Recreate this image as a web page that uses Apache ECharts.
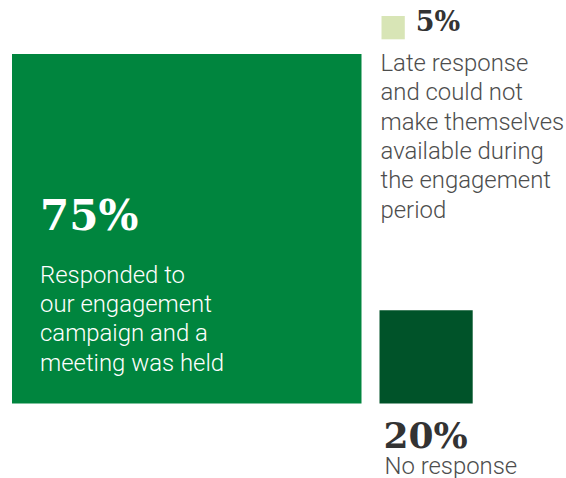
<!DOCTYPE html>
<html>
<head>
<meta charset="utf-8">
<script src="https://cdn.jsdelivr.net/npm/echarts@6/dist/echarts.min.js"></script>
<style>
  html, body { margin: 0; padding: 0; background: #ffffff; }
  #chart { width: 566px; height: 478px; }
</style>
</head>
<body>
<div id="chart"></div>
<script>
// ---- data ----
const categories = ['Responded', 'Late response', 'No response'];
const values = [75, 5, 20];
const valueLabels = ['75%', '5%', '20%'];
const descriptions = [
  'Responded to\nour engagement\ncampaign and a\nmeeting was held',
  'Late response\nand could not\nmake themselves\navailable during\nthe engagement\nperiod',
  'No response'
];

// ---- styles ----
const fills = ['#00853e', '#d8e5b6', '#005329'];
const serif = '"DejaVu Serif", "Liberation Serif", serif';
const GAP = 18;
const BODY = 23.9;

const chart = echarts.init(document.getElementById('chart'), null, { renderer: 'svg' });

function renderItem(params, api) {
  const i = api.value(0);
  const o = api.coord([0, 0]);
  const side = v => api.size([v, v])[0];
  const big = side(values[0]);
  const bigRight = o[0] + big;
  const bigBottom = o[1] + big;
  const darkLeft = bigRight + GAP;
  const s = side(api.value(1));
  const children = [];
  if (i === 0) {
    children.push({ type: 'rect', shape: { x: o[0], y: o[1], width: s, height: s }, style: { fill: fills[0] } });
    children.push({ type: 'text', style: { x: o[0] + 28, y: o[1] + 161, text: valueLabels[0], fill: '#ffffff',
      font: 'bold 42px ' + serif, verticalAlign: 'middle', align: 'left' } });
    children.push({ type: 'text', style: { x: o[0] + 28, y: o[1] + 206, text: descriptions[0], fill: '#ffffff',
      fontFamily: 'Roboto', fontWeight: 300, fontSize: BODY, lineHeight: 29.3, verticalAlign: 'top', align: 'left' } });
  } else if (i === 2) {
    const x = darkLeft, y = bigBottom - s;
    children.push({ type: 'rect', shape: { x: x, y: y, width: s, height: s }, style: { fill: fills[2] } });
    children.push({ type: 'text', style: {
      x: x + 4, y: bigBottom + 14,
      text: '{pct|' + valueLabels[2] + '}\n{desc|' + descriptions[2] + '}',
      verticalAlign: 'top', align: 'left',
      rich: {
        pct: { fontFamily: serif, fontWeight: 'bold', fontSize: 36, lineHeight: 34, fill: '#333333' },
        desc: { fontFamily: 'Roboto', fontWeight: 300, fontSize: BODY, lineHeight: 28, fill: '#4d4d4d', padding: [0, 0, 0, 1] }
      }
    } });
  } else {
    const x = darkLeft + 2, y = o[1] - 38;
    children.push({ type: 'rect', shape: { x: x, y: y, width: s, height: s }, style: { fill: fills[1] } });
    children.push({ type: 'text', style: { x: x + s + 11, y: 21, text: valueLabels[1], fill: '#333333',
      font: 'bold 27px ' + serif, verticalAlign: 'middle', align: 'left' } });
    children.push({ type: 'text', style: { x: darkLeft + 1, y: o[1] - 5.6, text: descriptions[1], fill: '#4d4d4d',
      fontFamily: 'Roboto', fontWeight: 300, fontSize: BODY, lineHeight: 29.3, verticalAlign: 'top', align: 'left' } });
  }
  return { type: 'group', children: children };
}

chart.setOption({
  animation: false,
  grid: { left: 12, top: 54, width: 466, height: 466 },
  xAxis: { type: 'value', min: 0, max: 100, show: false },
  yAxis: { type: 'value', min: 0, max: 100, inverse: true, show: false },
  series: [{
    type: 'custom',
    coordinateSystem: 'cartesian2d',
    clip: false,
    data: values.map((v, i) => ({ name: categories[i], value: [i, v] })),
    renderItem: renderItem
  }]
});
</script>
</body>
</html>
